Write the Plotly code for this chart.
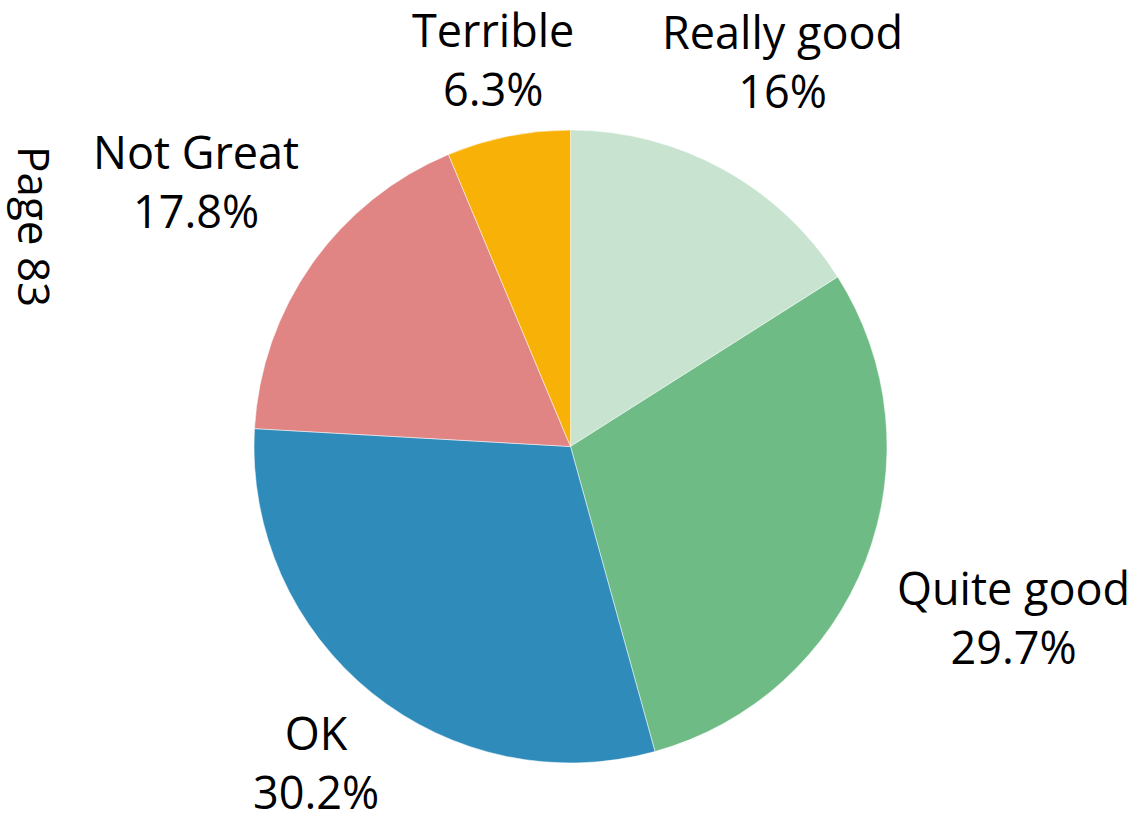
import math
import plotly.graph_objects as go

# Survey responses, clockwise from 12 o'clock
categories = ["Really good", "Quite good", "OK", "Not Great", "Terrible"]
shares = [16, 29.7, 30.2, 17.8, 6.3]

colors = ["#c8e4d0", "#6fbb85", "#2e8bba", "#e08484", "#f8b106"]
# how far each label sits from the centre, in pie radii
label_dist = [1.39, 1.50, 1.28, 1.45, 1.25]

FONT = "Open Sans, Noto Sans, sans-serif"

fig = go.Figure(
    go.Pie(
        labels=categories,
        values=shares,
        sort=False,
        direction="clockwise",
        rotation=0,
        textinfo="none",
        hoverinfo="label+percent",
        marker=dict(colors=colors, line=dict(color="white", width=0.5)),
        showlegend=False,
        domain=dict(x=[0, 1], y=[0, 1]),
    )
)

# Place each label along its slice's mid-angle
total = sum(shares)
cum = 0.0
annotations = []
for name, v, d in zip(categories, shares, label_dist):
    mid = (cum + v / 2) / total * 2 * math.pi
    cum += v
    x = 0.5 + 0.5 * d * math.sin(mid)
    y = 0.5 + 0.5 * d * math.cos(mid)
    annotations.append(
        dict(
            x=x, y=y, xref="paper", yref="paper",
            text=f"{name}<br>{v:g}%",
            showarrow=False,
            xanchor="center", yanchor="middle",
            font=dict(family=FONT, size=45, color="#000000"),
        )
    )

# Vertical page note on the left edge (pixel spot converted to paper units)
annotations.append(
    dict(
        x=(35 - 254) / 633, y=(763 - 226) / 633,
        xref="paper", yref="paper",
        xanchor="center", yanchor="middle",
        text="Page 83", showarrow=False, textangle=90,
        font=dict(family=FONT, size=44, color="#000000"),
    )
)

fig.update_layout(
    width=1137,
    height=820,
    margin=dict(l=254, r=250, t=130, b=57),
    paper_bgcolor="white",
    plot_bgcolor="white",
    annotations=annotations,
)

fig.write_html("out.html")
